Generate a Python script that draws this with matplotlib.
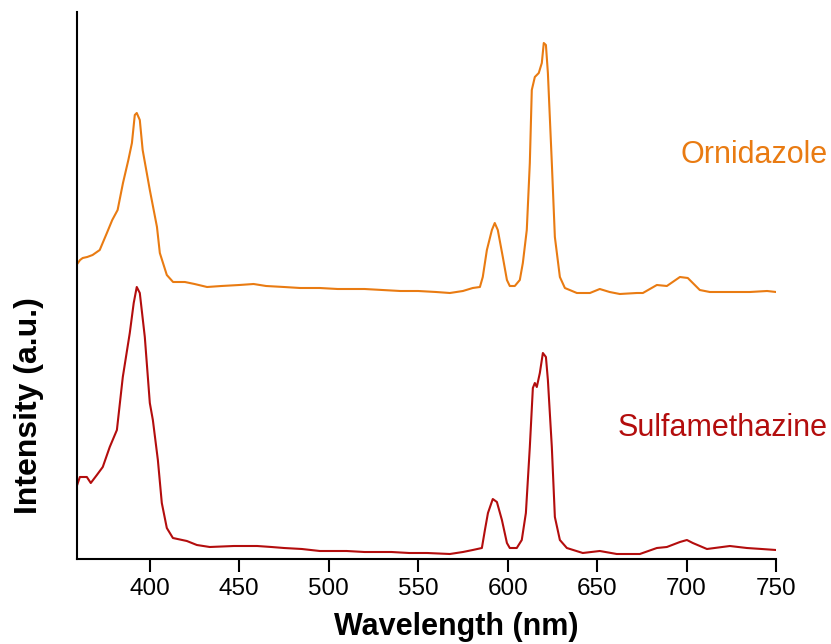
import numpy as np
import matplotlib.pyplot as plt

plt.rcParams['font.family'] = ['Liberation Sans', 'DejaVu Sans']

# Ornidazole spectrum (wavelength nm, intensity a.u.)
orn_wl = [359.8, 361.0, 362.5, 365.0, 368.0, 372.0, 376.0, 379.0, 382.0, 385.0,
          388.0, 390.0, 391.6, 392.7, 394.4, 396.0, 400.0, 404.0, 405.6, 409.5,
          413.0, 419.6, 425.0, 432.0, 440.0, 450.0, 458.0, 465.0, 475.0, 484.0,
          495.0, 505.0, 520.0, 530.0, 540.0, 550.0, 560.0,
          567.7, 575.0, 580.5, 584.5, 586.1, 588.4, 591.2, 592.8, 594.5, 597.3, 599.6,
          601.2, 604.0, 606.8, 608.5, 610.7, 612.4, 613.5, 615.2, 617.4, 619.1,
          620.2, 621.4, 622.5, 624.7, 626.4, 629.2, 632.0, 638.7, 646.0, 651.5,
          657.0, 662.7, 672.2, 675.6, 683.4, 689.0, 696.3, 700.7, 707.4, 713.0,
          725.9, 735.4, 745.0, 750.0]
orn_int = [296, 299, 301, 302, 304, 309, 326, 339, 349, 376,
           399, 416, 444, 446, 439, 409, 369, 332, 306, 284,
           277, 277, 275, 272, 273, 274, 275, 273, 272, 271,
           271, 270, 270, 269, 268, 268, 267,
           266, 268, 271, 272, 282, 309, 329, 336, 329, 302, 279,
           273, 273, 279, 296, 329, 396, 469, 482, 486, 496,
           516, 514, 486, 396, 322, 282, 271, 266, 266, 270,
           267, 265, 266, 266, 274, 273, 282, 281, 269, 267,
           267, 267, 268, 267]

# Sulfamethazine spectrum (wavelength nm, intensity a.u.)
sul_wl = [359.2, 360.9, 364.8, 367.0, 370.4, 373.7, 377.6, 381.6, 384.9, 388.8,
          391.0, 392.7, 394.4, 397.2, 400.0, 401.7, 404.5, 406.7, 409.5, 412.9,
          420.7, 426.3, 433.5, 447.0, 460.0, 468.0, 475.0, 485.0, 495.0, 510.0,
          520.0, 535.0, 545.0, 555.0,
          567.7, 575.0, 580.5, 585.6, 587.3, 589.0, 591.7, 594.0, 596.8, 599.6, 601.2,
          605.1, 607.9, 610.2, 612.4, 614.1, 615.2, 616.3, 618.0, 619.7, 621.4,
          622.5, 624.7, 626.4, 629.2, 633.1, 642.0, 651.5, 661.0, 673.9, 683.4,
          689.0, 696.3, 700.2, 703.5, 711.4, 724.2, 733.7, 742.0, 750.0]
sul_int = [73, 82, 82, 76, 84, 92, 112, 129, 182, 226,
           256, 272, 266, 222, 156, 139, 99, 56, 31, 21,
           18, 14, 12, 13, 13, 12, 11, 10, 8, 8,
           7, 7, 6, 6,
           5, 7, 9, 11, 29, 46, 60, 57, 39, 16, 11,
           11, 19, 46, 112, 171, 176, 172, 186, 206, 202,
           179, 112, 42, 19, 11, 6, 8, 5, 5, 11,
           12, 17, 19, 16, 10, 13, 11, 10, 9]

orange = '#E97B12'
red = '#B30D0D'

fig = plt.figure(figsize=(8.31, 6.44), dpi=100)
ax = fig.add_axes([77 / 831, 1 - 559 / 644, (776 - 77) / 831, (559 - 12) / 644])

ax.plot(orn_wl, orn_int, color=orange, lw=1.5)
ax.plot(sul_wl, sul_int, color=red, lw=1.5)

ax.set_xlim(359.3, 750)
ax.set_ylim(0, 547)
ax.set_xticks(np.arange(400, 751, 50))
ax.set_yticks([])
ax.tick_params(axis='x', direction='out', length=9, width=1.5, labelsize=17.5, pad=5)
for s in ['top', 'right']:
    ax.spines[s].set_visible(False)
for s in ['left', 'bottom']:
    ax.spines[s].set_linewidth(1.5)

ax.set_xlabel('Wavelength (nm)', fontsize=22, fontweight='bold', x=0.542, labelpad=8)
ax.set_ylabel('Intensity (a.u.)', fontsize=23, fontweight='bold', y=0.28, labelpad=24)

fig.text(828 / 831, 1 - 155 / 644, 'Ornidazole', color=orange, fontsize=22,
         ha='right', va='center')
fig.text(828 / 831, 1 - 428 / 644, 'Sulfamethazine', color=red, fontsize=22,
         ha='right', va='center')

fig.savefig('out.png', dpi=100)
